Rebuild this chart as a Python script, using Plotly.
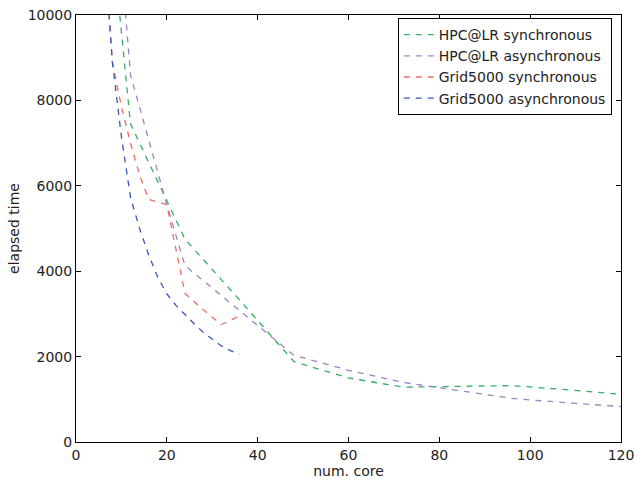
import plotly.graph_objects as go

# HPC@LR synchronous
hpc_sync_x = [6, 12, 24, 36, 48, 60, 72, 84, 96, 108, 120]
hpc_sync_y = [13900, 7450, 4750, 3330, 1880, 1500, 1285, 1300, 1320, 1225, 1120]

# HPC@LR asynchronous
hpc_async_x = [6, 12, 20, 24, 36, 48, 60, 72, 84, 96, 108, 120]
hpc_async_y = [16500, 8600, 5560, 4130, 3080, 2030, 1680, 1395, 1210, 1020, 920, 830]

# Grid5000 synchronous
g5k_sync_x = [6, 8, 10, 12, 14, 16, 20, 24, 28, 32, 36]
g5k_sync_y = [12000, 8900, 7850, 7000, 6250, 5680, 5560, 3480, 3100, 2750, 2950]

# Grid5000 asynchronous
g5k_async_x = [6, 8, 10, 12, 14, 16, 18, 20, 22, 24, 26, 28, 30, 32, 34, 36]
g5k_async_y = [12000, 8900, 7150, 5730, 5000, 4380, 3860, 3470, 3200, 2980, 2770, 2570, 2400, 2250, 2140, 2050]

x_ticks = [0, 20, 40, 60, 80, 100, 120]
x_tick_labels = ["0", "20", "40", "60", "80", "100", "120"]
y_ticks = [0, 2000, 4000, 6000, 8000, 10000]
y_tick_labels = ["0", "2000", "4000", "6000", "8000", "10000"]

series = [
    ("HPC@LR synchronous", hpc_sync_x, hpc_sync_y, "#34b068"),
    ("HPC@LR asynchronous", hpc_async_x, hpc_async_y, "#9a84c6"),
    ("Grid5000 synchronous", g5k_sync_x, g5k_sync_y, "#f26a5e"),
    ("Grid5000 asynchronous", g5k_async_x, g5k_async_y, "#3558bb"),
]

fig = go.Figure()
for name, xs, ys, color in series:
    fig.add_trace(go.Scatter(
        x=xs, y=ys, mode="lines", name=name,
        line=dict(color=color, width=1.3, dash="6px,6px"),
    ))

font = "DejaVu Sans, Verdana, sans-serif"
axis_common = dict(
    showline=True, linecolor="black", linewidth=1, mirror="ticks",
    ticks="inside", ticklen=5, tickcolor="black", tickwidth=1,
    showgrid=False, zeroline=False, automargin=False,
    tickfont=dict(family=font, size=14, color="#222"),
)

fig.update_layout(
    width=635, height=481,
    margin=dict(l=76, r=14, t=15, b=39),
    paper_bgcolor="white", plot_bgcolor="white",
    font=dict(family=font, size=14, color="#222"),
    xaxis=dict(range=[0, 120], tickvals=x_ticks, ticktext=x_tick_labels,
               title=dict(text="num. core", font=dict(size=14), standoff=4),
               **axis_common),
    yaxis=dict(range=[0, 10000], tickvals=y_ticks, ticktext=y_tick_labels,
               title=dict(text="elapsed time", font=dict(size=14), standoff=4),
               **axis_common),
    legend=dict(x=0.983, y=0.993, xanchor="right", yanchor="top",
                bordercolor="black", borderwidth=1, bgcolor="white",
                font=dict(family=font, size=14, color="#222"),
                tracegroupgap=0, itemwidth=30),
    showlegend=True,
)

fig.write_html("out.html",
               config={"displayModeBar": False},
               post_script="document.body.style.margin='0';document.body.style.overflow='hidden';")
